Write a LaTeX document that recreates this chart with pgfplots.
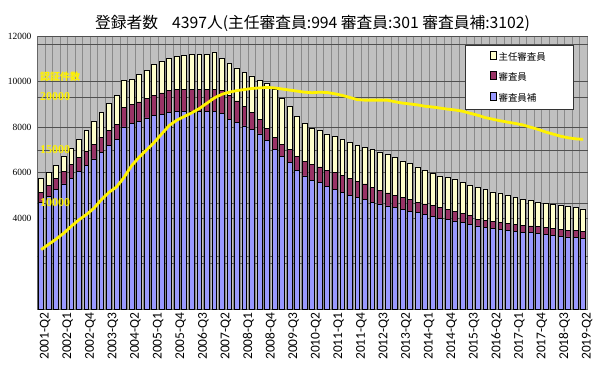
\documentclass[border=0pt]{standalone}
\usepackage{fontspec}
\usepackage{pgfplots}
\usepackage{pgfplotstable}
\pgfplotsset{compat=1.18}
\newfontfamily\cjk{Noto Sans CJK JP}
\newfontfamily\serifnum{Liberation Serif}
\newfontfamily\carl{Carlito}
\definecolor{bggray}{HTML}{C0C0C0}
\definecolor{gridc}{HTML}{505050}
\definecolor{vgrid}{HTML}{8A8A8A}
\definecolor{cHoshu}{HTML}{9999FF}
\definecolor{cShinsa}{HTML}{993366}
\definecolor{cShunin}{HTML}{FFFFCC}
\pgfplotsset{/pgfplots/ybar legend/.style={/pgfplots/legend image code/.code={\draw[##1,draw=black,line width=0.4bp] (0bp,-2.2bp) rectangle (4.4bp,2.2bp);}}}
\pgfplotstableread{
i hoshu shinsa shunin nin
0 4670 470 610 5600
1 4950 500 550 6100
2 5250 500 550 6600
3 5500 550 650 7150
4 5750 600 700 7800
5 6050 600 800 8400
6 6300 650 900 8900
7 6600 650 1000 9500
8 6900 650 1100 10300
9 7200 650 1200 11000
10 7450 650 1300 11500
11 8000 850 1200 12400
12 8150 850 1100 13500
13 8250 850 1200 14300
14 8400 850 1250 15000
15 8500 900 1350 15700
16 8550 950 1400 16500
17 8650 950 1400 17300
18 8680 970 1450 17800
19 8700 950 1500 18150
20 8700 950 1550 18500
21 8700 950 1550 18900
22 8700 950 1550 19400
23 8700 950 1650 19900
24 8600 1000 1400 20250
25 8350 1050 1400 20450
26 8200 950 1450 20600
27 8050 850 1500 20700
28 7900 750 1600 20800
29 7700 650 1700 20850
30 7400 550 1950 20900
31 7000 550 2100 20850
32 6700 550 2000 20750
33 6450 550 1900 20650
34 6100 600 1750 20550
35 5850 650 1650 20450
36 5650 700 1600 20400
37 5550 700 1600 20450
38 5400 700 1600 20420
39 5250 750 1600 20300
40 5120 750 1580 20150
41 5000 750 1570 19950
42 4900 720 1580 19750
43 4800 700 1600 19700
44 4700 650 1650 19700
45 4620 600 1660 19700
46 4530 570 1680 19700
47 4450 550 1650 19550
48 4370 530 1600 19420
49 4300 500 1600 19340
50 4230 470 1550 19250
51 4150 470 1480 19120
52 4080 460 1410 19050
53 4000 460 1390 18950
54 3940 440 1400 18850
55 3870 430 1420 18770
56 3800 400 1350 18650
57 3720 380 1350 18460
58 3650 300 1400 18280
59 3600 300 1350 18050
60 3550 300 1300 17900
61 3500 300 1300 17750
62 3450 300 1250 17620
63 3410 300 1190 17500
64 3380 300 1140 17360
65 3350 300 1130 17150
66 3320 300 1080 16950
67 3280 300 1070 16700
68 3240 300 1060 16500
69 3200 300 1060 16300
70 3170 300 1030 16150
71 3140 300 1010 16050
72 3102 301 994 16000
}\datatable
\begin{document}
\begin{tikzpicture}
\useasboundingbox (-37bp,-69bp) rectangle (563bp,309bp);
\begin{axis}[
  at={(0,0)}, anchor=south west, scale only axis,
  width=551bp, height=273bp,
  xmin=-0.55, xmax=72.65, ymin=0, ymax=12000,
  ybar stacked, bar width=0.64,
  axis background/.style={fill=bggray},
  axis x line*=bottom, axis y line*=left,
  axis line style={draw=black!60, line width=0.5bp},
  major tick length=0pt, minor tick length=0pt,
  scaled y ticks=false,
  ytick={0,2000,4000,6000,8000,10000,12000},
  yticklabels={,,4000,6000,8000,10000,12000},
  yticklabel style={font=\serifnum\fontsize{9.5}{10}\selectfont, xshift=-2bp},
  extra y ticks={2330,4660,6990,9320,11650},
  extra y tick labels={},
  extra y tick style={grid=major},
  ymajorgrids,
  major grid style={draw=gridc, line width=0.6bp},
  xtick={0,3,...,72},
  xticklabels={2001-Q2,2002-Q1,2002-Q4,2003-Q3,2004-Q2,2005-Q1,2005-Q4,2006-Q3,2007-Q2,2008-Q1,2008-Q4,2009-Q3,2010-Q2,2011-Q1,2011-Q4,2012-Q3,2013-Q2,2014-Q1,2014-Q4,2015-Q3,2016-Q2,2017-Q1,2017-Q4,2018-Q3,2019-Q2},
  xticklabel style={rotate=90, anchor=east, font=\carl\fontsize{13.5}{13.5}\selectfont, yshift=-4bp},
  minor xtick={-0.5,0.5,...,72.5},
  xminorgrids,
  minor grid style={draw=vgrid, line width=0.5bp},
  title={登録者数\hspace{0.9em}4397人(主任審査員:994 審査員:301 審査員補:3102)},
  title style={font=\cjk\fontsize{15.8}{16}\selectfont, at={(0.5,1)}, anchor=center, yshift=7bp},
  reverse legend,
  legend cell align=left,
  legend style={at={(0.973,0.967)}, anchor=north east, draw=black!80, fill=white,
    line width=0.5bp, inner xsep=25bp, inner ysep=5bp, row sep=7bp,
    font=\cjk\fontsize{9.5}{10}\selectfont},
]
\addplot[fill=cHoshu, draw=black, line width=0.6bp] table[x=i, y=hoshu] {\datatable};
\addlegendentry{審査員補}
\addplot[fill=cShinsa, draw=black, line width=0.6bp] table[x=i, y=shinsa] {\datatable};
\addlegendentry{審査員}
\addplot[fill=cShunin, draw=black, line width=0.6bp] table[x=i, y=shunin] {\datatable};
\addlegendentry{主任審査員}
\end{axis}
\begin{axis}[
  at={(0,0)}, anchor=south west, scale only axis,
  width=551bp, height=273bp,
  xmin=-0.55, xmax=72.65, ymin=0, ymax=25750,
  hide x axis,
  axis y line*=left,
  y axis line style={draw=none},
  major tick length=0pt,
  scaled y ticks=false,
  ytick={10000,15000,20000},
  yticklabels={10000,15000,20000},
  yticklabel style={anchor=west, inner sep=0pt, xshift=3bp, text=yellow,
    font=\serifnum\bfseries\fontsize{12}{12}\selectfont},
  clip=false,
]
\addplot[color=yellow, line width=2.8bp, forget plot] table[x=i, y=nin] {\datatable};
\node[anchor=west, inner sep=0pt, text=yellow, font=\cjk\bfseries\fontsize{10}{10}\selectfont]
  at (rel axis cs:0,0.85) [xshift=3bp] {認証件数};
\end{axis}
\end{tikzpicture}
\end{document}
